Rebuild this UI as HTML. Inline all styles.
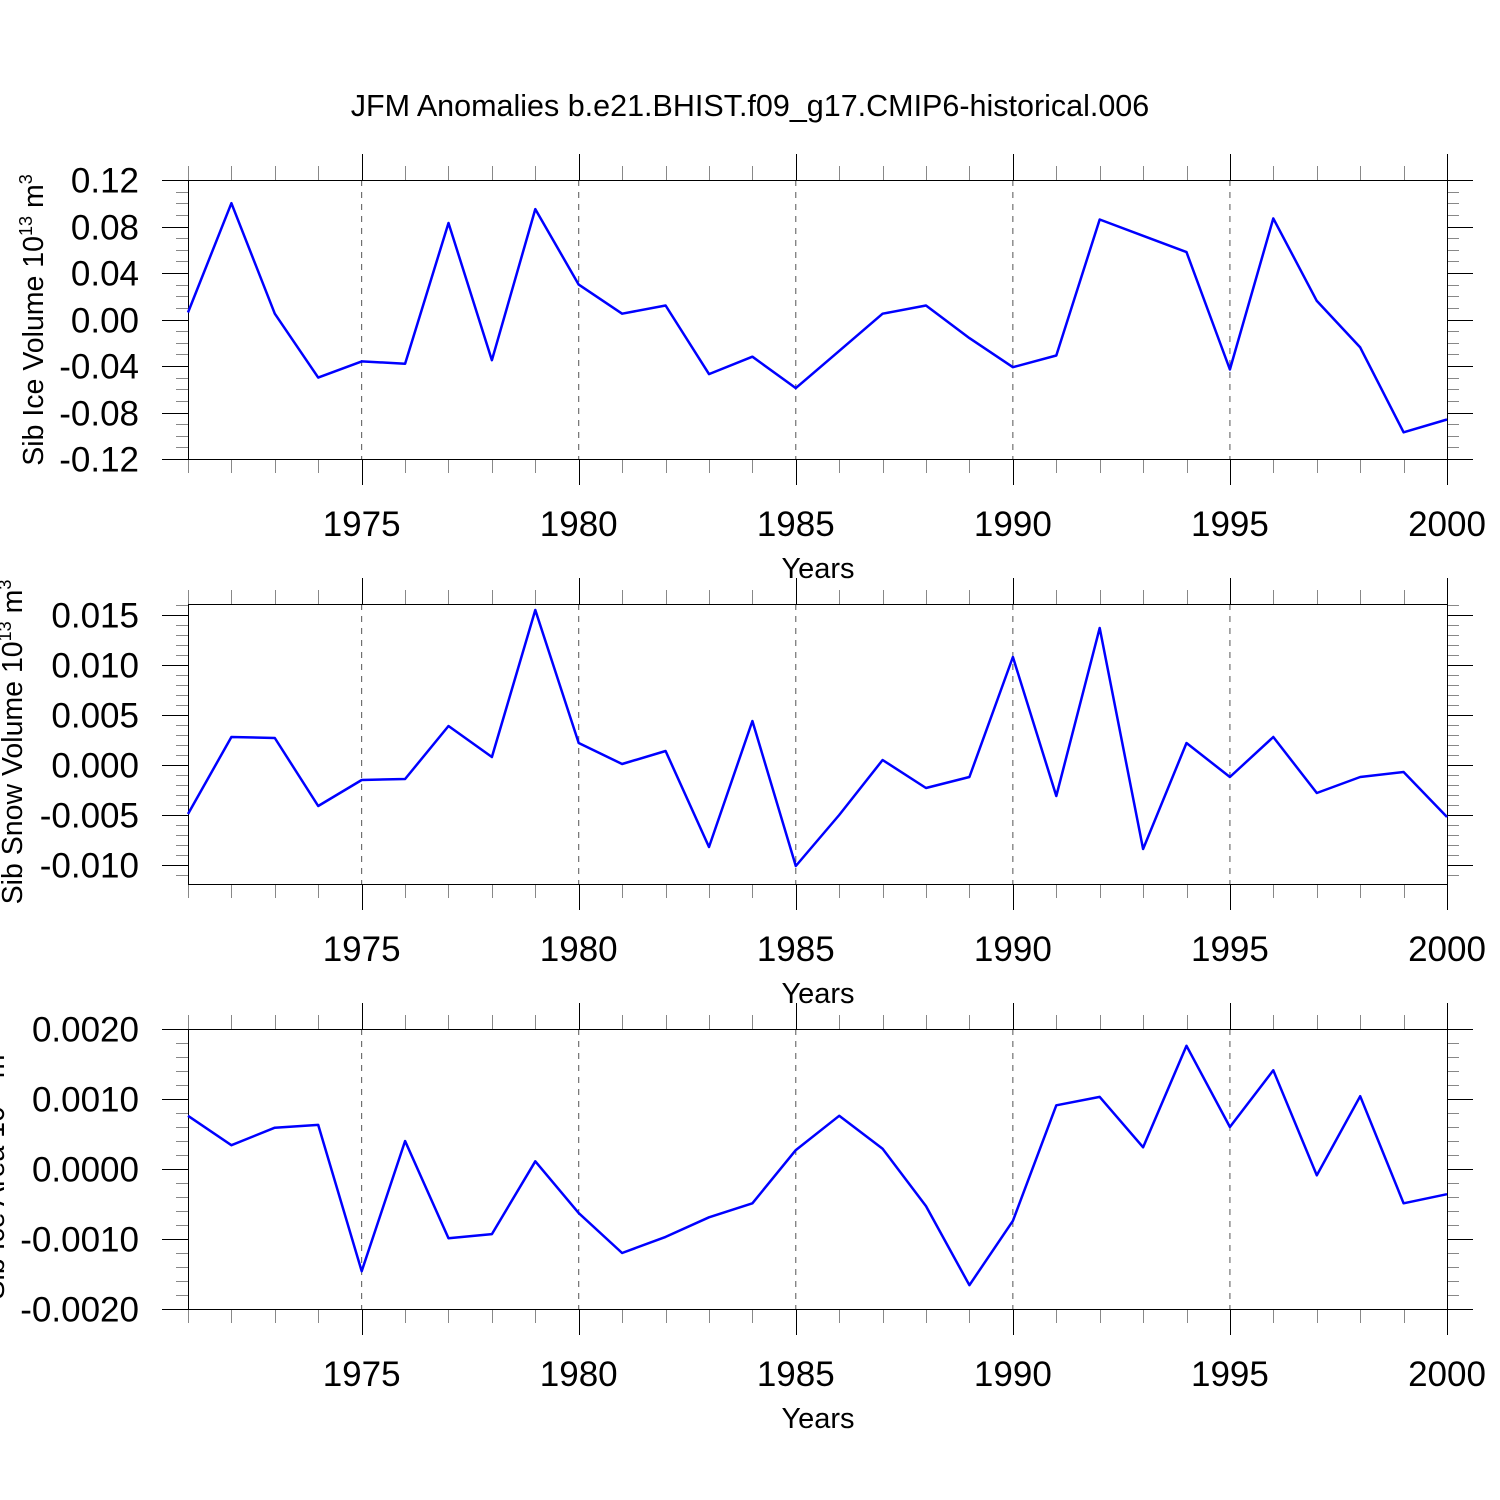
<!DOCTYPE html>
<html><head><meta charset="utf-8"><style>body{margin:0;background:#fff}svg{display:block}text{font-family:"Liberation Sans",Arial,sans-serif;fill:#000}</style></head>
<body>
<svg id="s" width="1500" height="1500" xmlns="http://www.w3.org/2000/svg">
<text x="750" y="116" font-size="30.5" text-anchor="middle">JFM Anomalies b.e21.BHIST.f09_g17.CMIP6-historical.006</text>
</svg>
<script>
const years = [];
for (let y = 1971; y <= 2000; y++) years.push(y);
const iceVolume = [0.006,0.100,0.005,-0.050,-0.036,-0.038,0.083,-0.035,0.095,0.030,0.005,0.012,-0.047,-0.032,-0.059,-0.027,0.005,0.012,-0.016,-0.041,-0.031,0.086,0.072,0.058,-0.043,0.087,0.016,-0.024,-0.097,-0.086];
const snowVolume = [-0.0049,0.0028,0.0027,-0.0041,-0.0015,-0.0014,0.0039,0.0008,0.0155,0.0022,0.0001,0.0014,-0.0082,0.0044,-0.0101,-0.0050,0.0005,-0.0023,-0.0012,0.0108,-0.0031,0.0137,-0.0084,0.0022,-0.0012,0.0028,-0.0028,-0.0012,-0.0007,-0.0052];
const iceArea = [0.00076,0.00034,0.00059,0.00063,-0.00146,0.00040,-0.00099,-0.00093,0.00011,-0.00063,-0.00120,-0.00097,-0.00069,-0.00049,0.00027,0.00076,0.00029,-0.00053,-0.00166,-0.00074,0.00091,0.00103,0.00031,0.00176,0.00060,0.00141,-0.00009,0.00104,-0.00049,-0.00036];
const xTickLabels = [1975,1980,1985,1990,1995,2000];
const iceTicks = [0.12,0.08,0.04,0.00,-0.04,-0.08,-0.12];
const snowTicks = [0.015,0.010,0.005,0.000,-0.005,-0.010];
const areaTicks = [0.0020,0.0010,0.0000,-0.0010,-0.0020];

const NS='http://www.w3.org/2000/svg';
const svg=document.getElementById('s');
const L=188,R=1447,X0=1971,X1=2000;
function xs(v){return L+(v-X0)/(X1-X0)*(R-L);}
function mk(tag,attrs,parent){const e=document.createElementNS(NS,tag);for(const k in attrs)e.setAttribute(k,attrs[k]);(parent||svg).appendChild(e);return e;}

function panel(id,top,bot,ymin,ymax,minorStep,ticks,dec,data,titleHtml,tx,tAnchorY){
  const g=mk('g',{});
  
  
  const ys=v=>bot-(v-ymin)/(ymax-ymin)*(bot-top);
  xTickLabels.forEach(y=>{if(y<X1){const l=mk('line',{x1:xs(y),x2:xs(y),y1:top,y2:bot,stroke:'#555','stroke-width':1,'stroke-dasharray':'6,6'},g);
    }});
  years.forEach(y=>{const x=Math.round(xs(y))+0.5;const maj=(y%5===0);const len=maj?26:14;const c=maj?'#000':'#888';
    mk('line',{x1:x,x2:x,y1:top-len,y2:top,stroke:c,'stroke-width':1},g);
    mk('line',{x1:x,x2:x,y1:bot,y2:bot+len,stroke:c,'stroke-width':1},g);});
  const start=Math.ceil(ymin/minorStep-1e-6);
  for(let i=start;i*minorStep<=ymax+1e-9;i++){const v=i*minorStep;const y=Math.round(ys(v))+0.5;
    mk('line',{x1:L-12,x2:L,y1:y,y2:y,stroke:'#888','stroke-width':1},g);
    mk('line',{x1:R,x2:R+12,y1:y,y2:y,stroke:'#888','stroke-width':1},g);}
  ticks.forEach(v=>{const y=Math.round(ys(v))+0.5;
    mk('line',{x1:L-26,x2:L,y1:y,y2:y,stroke:'#000','stroke-width':1},g);
    mk('line',{x1:R,x2:R+26,y1:y,y2:y,stroke:'#000','stroke-width':1},g);
    const t=mk('text',{x:139,y:y+12,'font-size':35,'text-anchor':'end'},g);t.textContent=v.toFixed(dec);
    });
  xTickLabels.forEach(y=>{const t=mk('text',{x:xs(y),y:bot+77,'font-size':35,'text-anchor':'middle'},g);t.textContent=y;
    });
  const f=mk('rect',{x:L+0.5,y:top+0.5,width:R-L,height:bot-top,fill:'none',stroke:'#000','stroke-width':1},g);
  
  const pts=data.map((v,i)=>xs(years[i]).toFixed(1)+','+ys(v).toFixed(1)).join(' ');
  const pl=mk('polyline',{points:pts,fill:'none',stroke:'#0000ff','stroke-width':2.5,'stroke-linejoin':'round'},g);
  
  const xt=mk('text',{x:818,y:bot+119,'font-size':29,'text-anchor':'middle'},g);xt.textContent='Years';
  
  const yt=mk('text',{x:0,y:0,'font-size':28.5,'text-anchor':'middle',transform:`translate(${tx},${tAnchorY}) rotate(-90)`},g);
  yt.innerHTML=titleHtml;
  
}
panel('ice-volume',180,459,-0.12,0.12,0.01,iceTicks,2,iceVolume,'Sib Ice Volume 10<tspan dy="-11" font-size="18">13</tspan><tspan dy="11"> m</tspan><tspan dy="-11" font-size="18">3</tspan>',43,320);
panel('snow-volume',604,884,-0.0119,0.0161,0.001,snowTicks,3,snowVolume,'Sib Snow Volume 10<tspan dy="-11" font-size="18">13</tspan><tspan dy="11"> m</tspan><tspan dy="-11" font-size="18">3</tspan>',22,742);
panel('ice-area',1029,1309,-0.002,0.002,0.0002,areaTicks,4,iceArea,'Sib Ice Area 10<tspan dy="-11" font-size="18">13</tspan><tspan dy="11"> m</tspan><tspan dy="-11" font-size="18">2</tspan>',4,1172);
</script>
</body></html>
